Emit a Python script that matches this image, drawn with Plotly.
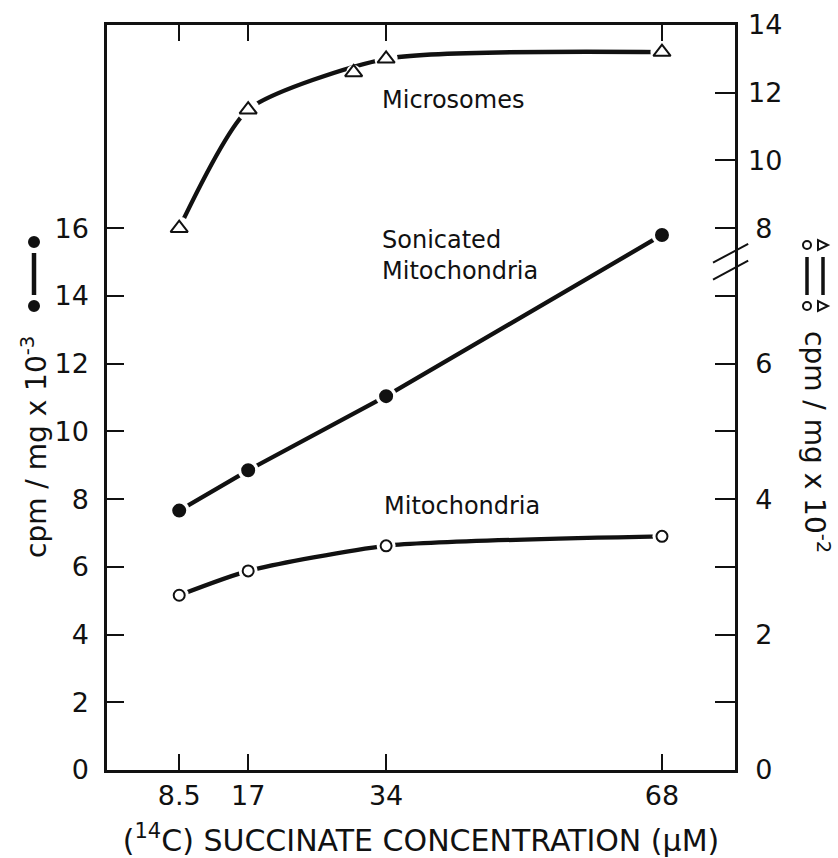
import plotly.graph_objects as go

# ---- data ----
conc = [8.5, 17, 34, 68]                      # (14C) succinate concentration, uM
sonicated = [7.66, 8.85, 11.04, 15.8]         # cpm/mg x 10^-3 (left axis)
mitochondria = [2.58, 2.94, 3.31, 3.45]       # cpm/mg x 10^-2 (right axis, lower scale)
microsomes = [8.0, 11.5, 13.0, 13.2]          # cpm/mg x 10^-2 (right axis, upper scale)
micro_extra_x = [30]
micro_extra_y = [12.6]

x_ticks = [8.5, 17, 34, 68]
x_ticktext = ["8.5", "17", "34", "68"]
left_ticks = [0, 2, 4, 6, 8, 10, 12, 14, 16]
right_low_ticks = [0, 2, 4, 6, 8]
right_low_minor = [1, 3, 5, 7]
right_high_ticks = [10, 12, 14]

FONT = "DejaVu Sans"
BLACK = "#111111"

# plot-area geometry (pixels) used to place the key glyphs in paper coords
L, R, T, B = 107, 735, 25, 770
def px(xp):
    return (xp - L) / (R - L)
def py(yp):
    return (B - yp) / (B - T)

fig = go.Figure()

def add_series(x, y, yaxis, symbol, size, fill, halo, shape="spline", line=True):
    if line:
        fig.add_trace(go.Scatter(x=x, y=y, yaxis=yaxis, mode="lines",
                                 line=dict(color=BLACK, width=4.3, shape=shape, smoothing=0.6),
                                 hoverinfo="skip", showlegend=False))
    fig.add_trace(go.Scatter(x=x, y=y, yaxis=yaxis, mode="markers",
                             marker=dict(symbol="circle", size=halo, color="white",
                                         line=dict(width=0)),
                             hoverinfo="skip", showlegend=False))
    fig.add_trace(go.Scatter(x=x, y=y, yaxis=yaxis, mode="markers",
                             marker=dict(symbol=symbol, size=size, color=fill,
                                         line=dict(color=BLACK, width=2)),
                             showlegend=False))

add_series(conc, sonicated, "y", "circle", 12, BLACK, 21, shape="linear")
add_series(conc, mitochondria, "y3", "circle", 11, "white", 19)
add_series(conc, microsomes, "y2", "triangle-up", 15, "white", 23)
add_series(micro_extra_x, micro_extra_y, "y2", "triangle-up", 15, "white", 15, line=False)

tickfont = dict(family=FONT, size=27, color=BLACK)

fig.update_layout(
    width=838, height=858,
    margin=dict(l=L, r=838 - R, t=T, b=858 - B, autoexpand=False),
    paper_bgcolor="white", plot_bgcolor="white",
    font=dict(family=FONT, color=BLACK),
    xaxis=dict(range=[-0.4, 77.0], tickvals=x_ticks, ticktext=x_ticktext,
               ticks="inside", ticklen=16, tickwidth=2, tickcolor=BLACK,
               showline=True, linecolor=BLACK, linewidth=2.5, mirror="ticks",
               showgrid=False, zeroline=False, tickfont=tickfont, automargin=False,
               title=dict(text="(<sup>14</sup>C) SUCCINATE CONCENTRATION (\u03bcM)",
                          font=dict(family=FONT, size=30, color=BLACK), standoff=21)),
    yaxis=dict(range=[0, 22], tickvals=left_ticks, ticks="inside", ticklen=17,
               tickwidth=2, tickcolor=BLACK, showline=True, linecolor=BLACK,
               linewidth=2.5, showgrid=False, zeroline=False, tickfont=tickfont,
               ticklabelstandoff=10, automargin=False),
    yaxis2=dict(range=[-8, 14], overlaying="y", side="right", tickvals=right_high_ticks,
                ticks="inside", ticklen=20, tickwidth=2, tickcolor=BLACK,
                showline=False, showgrid=False, zeroline=False, tickfont=tickfont,
                ticklabelstandoff=12, automargin=False),
    yaxis3=dict(range=[0, 11], overlaying="y", side="right", tickvals=right_low_ticks,
                ticks="inside", ticklen=20, tickwidth=2, tickcolor=BLACK,
                minor=dict(tickmode="array", tickvals=right_low_minor, ticks="inside",
                           ticklen=20, tickwidth=2, tickcolor=BLACK),
                showline=True, linecolor=BLACK, linewidth=2.5,
                showgrid=False, zeroline=False, tickfont=tickfont,
                ticklabelstandoff=12, automargin=False),
)

# axis break marks on the right axis
for yb in (7.49, 7.24):
    fig.add_shape(type="line", xref="paper", yref="y3", x0=0.965, x1=1.021,
                  y0=yb, y1=yb + 0.28, line=dict(color=BLACK, width=2))

lab = dict(family=FONT, size=24, color=BLACK)
fig.add_annotation(x=34, y=11.8, yref="y2", text="Microsomes", showarrow=False,
                   xanchor="left", xshift=-6, font=lab)
fig.add_annotation(x=34, y=15.2, yref="y", text="Sonicated<br>Mitochondria",
                   showarrow=False, xanchor="left", align="left", xshift=-6, font=lab)
fig.add_annotation(x=34, y=7.8, yref="y", text="Mitochondria", showarrow=False,
                   xanchor="left", xshift=-4, font=lab)

# axis titles
fig.add_annotation(xref="paper", yref="paper", x=px(34), y=py(447), textangle=-90,
                   xanchor="center", yanchor="middle",
                   text="cpm / mg x 10<sup>-3</sup>", showarrow=False,
                   font=dict(family=FONT, size=28, color=BLACK))
fig.add_annotation(xref="paper", yref="paper", x=px(816), y=py(442), textangle=90,
                   xanchor="center", yanchor="middle",
                   text="cpm / mg x 10<sup>-2</sup>", showarrow=False,
                   font=dict(family=FONT, size=28, color=BLACK))

# key glyphs beside the axis titles
def dot(xc, yc, r, filled):
    fig.add_shape(type="circle", xref="paper", yref="paper",
                  x0=px(xc - r), x1=px(xc + r), y0=py(yc + r), y1=py(yc - r),
                  fillcolor=BLACK if filled else "white",
                  line=dict(color=BLACK, width=2))

def seg(xc, y0, y1, w):
    fig.add_shape(type="line", xref="paper", yref="paper",
                  x0=px(xc), x1=px(xc), y0=py(y0), y1=py(y1),
                  line=dict(color=BLACK, width=w))

def tri_right(xc, yc, s):
    path = "M {:.5f},{:.5f} L {:.5f},{:.5f} L {:.5f},{:.5f} Z".format(
        px(xc - s), py(yc - s), px(xc - s), py(yc + s), px(xc + s), py(yc))
    fig.add_shape(type="path", xref="paper", yref="paper", path=path,
                  fillcolor="white", line=dict(color=BLACK, width=2))

# left key: filled circle - line - filled circle
seg(34, 253, 295, 4.5)
dot(34, 242, 5, True)
dot(34, 306, 5, True)

# right key: open circle / triangle pairs joined by lines
seg(807, 257, 295, 3.5)
seg(823, 257, 295, 3.5)
dot(807, 245, 4, False)
dot(807, 306, 4, False)
tri_right(823, 245, 5)
tri_right(823, 306, 5)

fig.write_html("out.html")
